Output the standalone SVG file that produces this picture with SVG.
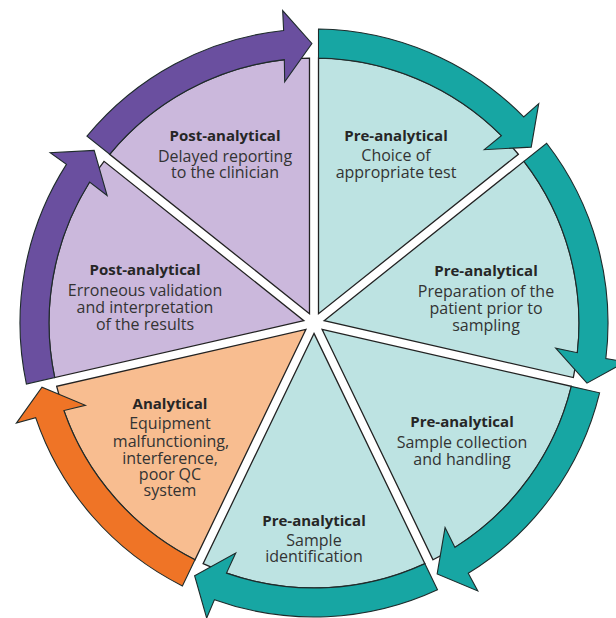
<svg xmlns="http://www.w3.org/2000/svg" width="616" height="618" viewBox="0 0 616 618">
  <style>
    .wedge { stroke: #222222; stroke-width: 1.3; stroke-linejoin: miter; }
    .w-teal { fill: #bde3e2; }
    .w-lav { fill: #cbb8dc; }
    .w-peach { fill: #f8bd90; }
    .arrow { stroke: #1e2b2b; stroke-width: 1.1; stroke-linejoin: miter; }
    .a-teal { fill: #17a6a3; }
    .a-purple { fill: #6a4f9f; }
    .a-orange { fill: #ef7426; }
    text { font-family: "Open Sans", "Noto Sans", "Liberation Sans", sans-serif; text-anchor: middle; fill: #333333; font-size: 16px; }
    .head { font-weight: 700; font-size: 15px; fill: #262626; }
  </style>
  <defs>
    <!-- one seventh of the disc, spanning 12 o'clock to ~1:43, inset 4.5px from each spoke -->
    <path id="wedge" d="M4.5 -9.35 L4.5 -264.96 A265 265 0 0 1 204.34 -168.72 Z"/>
    <!-- curved band along the rim of one sector, ending in an arrowhead at the next spoke -->
    <path id="rim-arrow" d="M4.5 -293.97 A294 294 0 0 1 209.7 -206.07 L224.73 -219.3 L217.21 -175.9 L170.32 -173.32 L187.38 -187.38 A265 265 0 0 0 4.5 -264.96 Z"/>
  </defs>

  <g id="pre-choice">
    <use href="#wedge" class="wedge w-teal" transform="translate(314 323)"/>
    <text x="396" y="141"><tspan class="head">Pre-analytical</tspan><tspan x="396" dy="20">Choice of</tspan><tspan x="396" dy="17">appropriate test</tspan></text>
  </g>

  <g id="pre-preparation">
    <use href="#wedge" class="wedge w-teal" transform="translate(314 323) rotate(51.4286)"/>
    <text x="486" y="276"><tspan class="head">Pre-analytical</tspan><tspan x="486" dy="21">Preparation of the</tspan><tspan x="486" dy="17">patient prior to</tspan><tspan x="486" dy="17">sampling</tspan></text>
  </g>

  <g id="pre-collection">
    <use href="#wedge" class="wedge w-teal" transform="translate(314 323) rotate(102.857)"/>
    <text x="462" y="427"><tspan class="head">Pre-analytical</tspan><tspan x="462" dy="21">Sample collection</tspan><tspan x="462" dy="17">and handling</tspan></text>
  </g>

  <g id="pre-identification">
    <use href="#wedge" class="wedge w-teal" transform="translate(314 323) rotate(154.286)"/>
    <text x="314" y="526"><tspan class="head">Pre-analytical</tspan><tspan x="314" dy="20">Sample</tspan><tspan x="314" dy="16">identification</tspan></text>
  </g>

  <g id="analytical">
    <use href="#wedge" class="wedge w-peach" transform="translate(314 323) rotate(205.714)"/>
    <text x="170" y="409"><tspan class="head">Analytical</tspan><tspan x="170" dy="20">Equipment</tspan><tspan x="171" dy="18">malfunctioning,</tspan><tspan x="170" dy="17">interference,</tspan><tspan x="170" dy="16">poor QC</tspan><tspan x="170" dy="16">system</tspan></text>
  </g>

  <g id="post-validation">
    <use href="#wedge" class="wedge w-lav" transform="translate(314 323) rotate(257.143)"/>
    <text x="145" y="275"><tspan class="head">Post-analytical</tspan><tspan x="145" dy="21">Erroneous validation</tspan><tspan x="145" dy="17">and interpretation</tspan><tspan x="145" dy="17">of the results</tspan></text>
  </g>

  <g id="post-reporting">
    <use href="#wedge" class="wedge w-lav" transform="translate(314 323) rotate(308.571)"/>
    <text x="225" y="141"><tspan class="head">Post-analytical</tspan><tspan x="225" dy="21">Delayed reporting</tspan><tspan x="225" dy="16">to the clinician</tspan></text>
  </g>

  <!-- clockwise flow around the rim -->
  <g id="connectors">
    <use href="#rim-arrow" class="arrow a-teal" transform="translate(314 323)"/>
    <use href="#rim-arrow" class="arrow a-teal" transform="translate(314 323) rotate(51.4286)"/>
    <use href="#rim-arrow" class="arrow a-teal" transform="translate(314 323) rotate(102.857)"/>
    <use href="#rim-arrow" class="arrow a-teal" transform="translate(314 323) rotate(154.286)"/>
    <use href="#rim-arrow" class="arrow a-orange" transform="translate(314 323) rotate(205.714)"/>
    <use href="#rim-arrow" class="arrow a-purple" transform="translate(314 323) rotate(257.143)"/>
    <use href="#rim-arrow" class="arrow a-purple" transform="translate(314 323) rotate(308.571)"/>
  </g>
</svg>
